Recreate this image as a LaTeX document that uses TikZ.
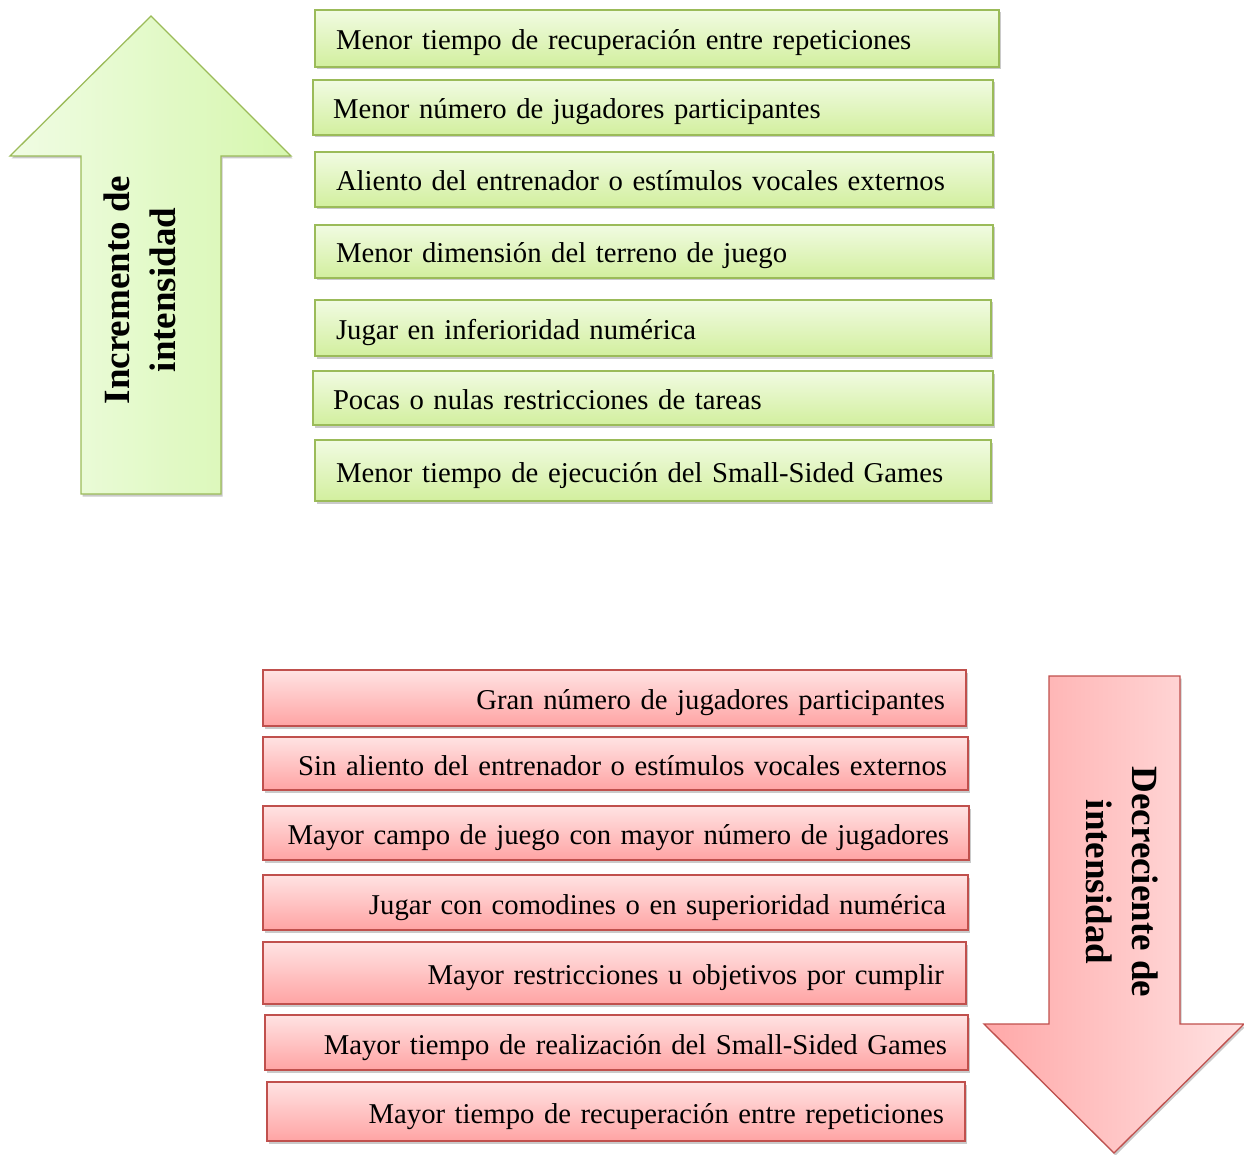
\documentclass[tikz,border=0pt]{standalone}
\usepackage{fontspec}
\setmainfont{Liberation Serif}
\usetikzlibrary{shadows}
\definecolor{gline}{HTML}{9BBB59}
\definecolor{rline}{HTML}{C0504D}
\definecolor{gtop}{HTML}{F1FBE2}
\definecolor{gbot}{HTML}{D2EF9E}
\definecolor{gleft}{HTML}{F0FCE4}
\definecolor{gright}{HTML}{D6F7AE}
\definecolor{rtop}{HTML}{FFE3E3}
\definecolor{rbot}{HTML}{FFA4A4}
\definecolor{rleft}{HTML}{FFA8A8}
\definecolor{rright}{HTML}{FFE2E2}
\tikzset{
  shad/.style={drop shadow={shadow xshift=1.5pt,shadow yshift=-2.5pt,opacity=0.35,fill=black!60}},
  boxbase/.style={line width=1.3pt,shad,inner ysep=0pt,text height=26pt,text depth=3pt,
    font=\fontsize{28.7}{32}\selectfont},
  gbox/.style={boxbase,draw=gline,top color=gtop,bottom color=gbot,align=left},
  rbox/.style={boxbase,draw=rline,top color=rtop,bottom color=rbot,align=right},
  garrow/.style={draw=gline,line width=1.3pt,left color=gleft,right color=gright,shad,line join=miter},
  rarrow/.style={draw=rline,line width=1.3pt,left color=rleft,right color=rright,shad,line join=miter},
  albl/.style={font=\bfseries\fontsize{37}{46}\selectfont,align=center,inner sep=0pt}
}
% #1 style, #2 name, #3-#6 box corners, #7 inset, #8 l/r, #9 text
\newcommand\mkbox[9]{%
  \pgfmathsetmacro\bw{#5-#3}\pgfmathsetmacro\bh{#6-#4}\pgfmathsetmacro\tw{\bw-2*#7}%
  \node[#1,minimum width=\bw pt,minimum height=\bh pt,text width=\tw pt,inner xsep=#7 pt]
    (#2) at ({(#3+#5)/2},{(#4+#6)/2}) {\makebox[\linewidth][#8]{#9}};}
\begin{document}
\begin{tikzpicture}[x=1pt,y=-1pt]
\useasboundingbox (0,0) rectangle (1244,1155);
% green arrow
\path[garrow] (151,16) -- (291,156) -- (221,156) -- (221,494) -- (81,494) -- (81,156) -- (10,156) -- cycle;
\node[albl,rotate=90] (up) at (140,290) {Incremento de\\intensidad};
% red arrow
\path[rarrow] (1049,676) -- (1180,676) -- (1180,1024) -- (1244,1024) -- (1114,1153) -- (984,1024) -- (1049,1024) -- cycle;
\node[albl,rotate=-90] (down) at (1122,882) {Decreciente de\\intensidad};
% green boxes
\mkbox{gbox}{g1}{315}{10}{999}{67}{21}{l}{Menor tiempo de recuperación entre repeticiones}
\mkbox{gbox}{g2}{313}{80}{993}{135}{20}{l}{Menor número de jugadores participantes}
\mkbox{gbox}{g3}{315}{152}{993}{207}{21}{l}{Aliento del entrenador o estímulos vocales externos}
\mkbox{gbox}{g4}{315}{225}{993}{278}{21}{l}{Menor dimensión del terreno de juego}
\mkbox{gbox}{g5}{315}{300}{991}{356}{21}{l}{Jugar en inferioridad numérica}
\mkbox{gbox}{g6}{313}{371}{993}{425}{20}{l}{Pocas o nulas restricciones de tareas}
\mkbox{gbox}{g7}{315}{440}{991}{501}{21}{l}{Menor tiempo de ejecución del Small-Sided Games}
% red boxes
\mkbox{rbox}{r1}{263}{670}{966}{726}{21}{r}{Gran número de jugadores participantes}
\mkbox{rbox}{r2}{263}{737}{968}{790}{21}{r}{Sin aliento del entrenador o estímulos vocales externos}
\mkbox{rbox}{r3}{263}{806}{969}{860}{20}{r}{Mayor campo de juego con mayor número de jugadores}
\mkbox{rbox}{r4}{263}{875}{968}{930}{22}{r}{Jugar con comodines o en superioridad numérica}
\mkbox{rbox}{r5}{263}{942}{966}{1004}{22}{r}{Mayor restricciones u objetivos por cumplir}
\mkbox{rbox}{r6}{265}{1015}{968}{1070}{21}{r}{Mayor tiempo de realización del Small-Sided Games}
\mkbox{rbox}{r7}{267}{1082}{965}{1141}{21}{r}{Mayor tiempo de recuperación entre repeticiones}
\end{tikzpicture}
\end{document}
